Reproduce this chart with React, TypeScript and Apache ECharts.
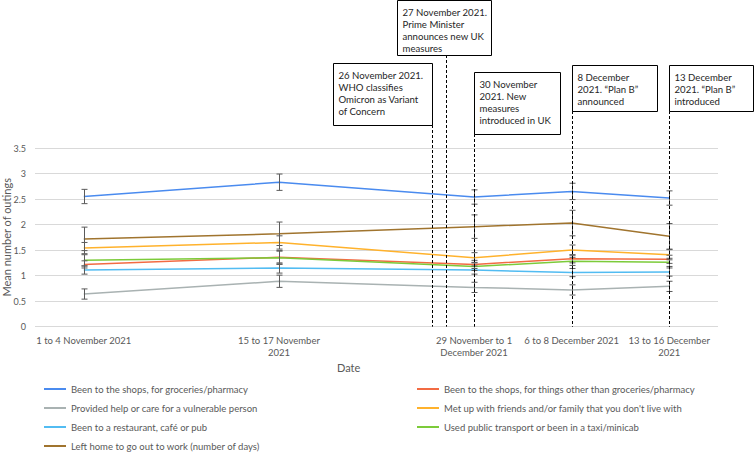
import React, { useEffect, useRef } from "react";
import * as echarts from "echarts";

// ---- data ----
const periodLabels = [
  "1 to 4 November 2021",
  "15 to 17 November\n2021",
  "29 November to 1\nDecember 2021",
  "6 to 8 December 2021",
  "13 to 16 December\n2021",
];
const periodDay = [0, 14, 28, 35, 42]; // days after 1 November 2021

const seriesNames = [
  "Been to the shops, for groceries/pharmacy",
  "Been to the shops, for things other than groceries/pharmacy",
  "Provided help or care for a vulnerable person",
  "Met up with friends and/or family that you don't live with",
  "Been to a restaurant, café or pub",
  "Used public transport or been in a taxi/minicab",
  "Left home to go out to work (number of days)",
];
const groceries = [2.55, 2.83, 2.54, 2.65, 2.52];
const otherShops = [1.22, 1.36, 1.22, 1.33, 1.32];
const helpCare = [0.64, 0.89, 0.77, 0.72, 0.79];
const friends = [1.54, 1.65, 1.35, 1.5, 1.41];
const restaurant = [1.11, 1.15, 1.11, 1.06, 1.07];
const transport = [1.3, 1.35, 1.18, 1.28, 1.26];
const work = [1.72, 1.82, 1.96, 2.03, 1.77];

const groceriesErr = [0.14, 0.16, 0.14, 0.16, 0.14];
const otherShopsErr = [0.07, 0.13, 0.08, 0.08, 0.08];
const helpCareErr = [0.1, 0.12, 0.1, 0.1, 0.1];
const friendsErr = [0.11, 0.13, 0.1, 0.1, 0.1];
const restaurantErr = [0.08, 0.1, 0.08, 0.08, 0.08];
const transportErr = [0.11, 0.13, 0.08, 0.08, 0.08];
const workErr = [0.23, 0.23, 0.23, 0.25, 0.25];

const eventDay = [25, 26, 28, 35, 42]; // days after 1 November 2021
const eventText = [
  "26 November 2021.\nWHO classifies\nOmicron as Variant\nof Concern",
  "27 November 2021.\nPrime Minister\nannounces new UK\nmeasures",
  "30 November\n2021. New\nmeasures\nintroduced in UK",
  "8 December\n2021. \u201cPlan B\u201d\nannounced",
  "13 December\n2021. \u201cPlan B\u201d\nintroduced",
];

// ---- layout / style ----
const values = [groceries, otherShops, helpCare, friends, restaurant, transport, work];
const errors = [groceriesErr, otherShopsErr, helpCareErr, friendsErr, restaurantErr, transportErr, workErr];
const colors = ["#4A8BEF", "#F26B43", "#A9B2B2", "#FFB22C", "#52BCF2", "#7CCB3A", "#A0742E"];
// box placement relative to the event line (dx from line, top, width, height)
const eventBoxes = [
  { dx: -99, top: 63, w: 99, h: 62 },
  { dx: -49, top: 0, w: 94, h: 55 },
  { dx: 0, top: 72, w: 86, h: 62 },
  { dx: 0, top: 65, w: 85, h: 46 },
  { dx: 0, top: 65, w: 84, h: 46 },
];
const legendPos = [
  { left: 44, top: 384 },
  { left: 417, top: 384 },
  { left: 44, top: 403 },
  { left: 417, top: 403 },
  { left: 44, top: 422 },
  { left: 417, top: 422 },
  { left: 44, top: 441 },
];

const FONT = "Lato, 'Noto Sans', sans-serif";
const TEXT = "#595959";

export default function App() {
  const ref = useRef<HTMLDivElement>(null);
  useEffect(() => {
    if (!ref.current) return;
    const chart = echarts.init(ref.current, undefined, { renderer: "svg" });

    const errData: any[] = [];
    values.forEach((vals, s) =>
      vals.forEach((v, i) => errData.push([periodDay[i], v - errors[s][i], v + errors[s][i]]))
    );

    const lineSeries = seriesNames.map((name, s) => ({
      name,
      type: "line",
      data: periodDay.map((d, i) => [d, values[s][i]]),
      symbol: "none",
      lineStyle: { color: colors[s], width: 1.5 },
      itemStyle: { color: colors[s] },
      z: 2,
    }));

    const option: any = {
      animation: false,
      textStyle: { fontFamily: FONT },
      grid: { left: 35, right: 37, top: 148, bottom: 127.3, containLabel: false, outerBoundsMode: "none" },
      xAxis: {
        type: "value",
        min: -3.5,
        max: 45.5,
        axisLine: { show: false },
        axisTick: { show: false },
        splitLine: { show: false },
        axisLabel: {
          customValues: periodDay,
          formatter: (v: number) => periodLabels[periodDay.indexOf(v)] ?? "",
          color: TEXT,
          fontSize: 9.5,
          fontFamily: FONT,
          lineHeight: 12,
          margin: 8,
          align: "center",
        },
      },
      yAxis: {
        type: "value",
        min: 0,
        max: 3.5,
        interval: 0.5,
        name: "Mean number of outings",
        nameLocation: "middle",
        nameGap: 23,
        nameMoveOverlap: false,
        nameTextStyle: { color: TEXT, fontSize: 11, fontFamily: FONT },
        axisLine: { show: false },
        axisTick: { show: false },
        splitLine: { lineStyle: { color: "#D9D9D9", width: 1 } },
        axisLabel: { color: TEXT, fontSize: 9, fontFamily: FONT, margin: 9 },
      },
      legend: seriesNames.map((name, s) => ({
        data: [name],
        left: legendPos[s].left,
        top: legendPos[s].top,
        padding: 0,
        icon: "rect",
        itemWidth: 22,
        itemHeight: 2,
        textStyle: { color: TEXT, fontSize: 9.5, fontFamily: FONT },
      })),
      graphic: [
        {
          type: "text",
          left: 337,
          top: 362,
          style: { text: "Date", fill: TEXT, fontSize: 11, fontFamily: FONT },
        },
      ],
      series: [
        ...lineSeries,
        {
          type: "custom",
          name: "errors",
          data: errData,
          z: 3,
          clip: false,
          renderItem: (params: any, api: any) => {
            const lo = api.coord([api.value(0), api.value(1)]);
            const hi = api.coord([api.value(0), api.value(2)]);
            const x = Math.round(lo[0]) + 0.5;
            const st = { stroke: "#5A5A5A", lineWidth: 1 };
            return {
              type: "group",
              children: [
                { type: "line", shape: { x1: x, y1: lo[1], x2: x, y2: hi[1] }, style: st },
                { type: "line", shape: { x1: x - 3, y1: lo[1], x2: x + 3, y2: lo[1] }, style: st },
                { type: "line", shape: { x1: x - 3, y1: hi[1], x2: x + 3, y2: hi[1] }, style: st },
              ],
            };
          },
        },
        {
          type: "custom",
          name: "events",
          data: eventDay.map((d, i) => [d, i]),
          z: 5,
          clip: false,
          renderItem: (params: any, api: any) => {
            const i = params.dataIndex;
            const p = api.coord([eventDay[i], 0]);
            const x = Math.round(p[0]) + 0.5;
            const b = eventBoxes[i];
            const left = Math.round(p[0] + b.dx) + 0.5;
            return {
              type: "group",
              children: [
                {
                  type: "line",
                  shape: { x1: x, y1: b.top + b.h, x2: x, y2: p[1] },
                  style: { stroke: "#000", lineWidth: 1, lineDash: [3, 2] },
                },
                {
                  type: "rect",
                  shape: { x: left, y: b.top + 0.5, width: b.w, height: b.h },
                  style: { fill: "#fff", stroke: "#000", lineWidth: 1 },
                },
                {
                  type: "text",
                  x: left + 5,
                  y: b.top + 6,
                  style: {
                    text: eventText[i],
                    fill: "#262626",
                    fontSize: 9.6,
                    fontFamily: FONT,
                    lineHeight: 12,
                  },
                },
              ],
            };
          },
        },
      ],
    };
    chart.setOption(option);
    return () => chart.dispose();
  }, []);
  return <div ref={ref} style={{ width: 755, height: 454, position: "absolute", left: 0, top: 0, background: "#fff" }} />;
}
